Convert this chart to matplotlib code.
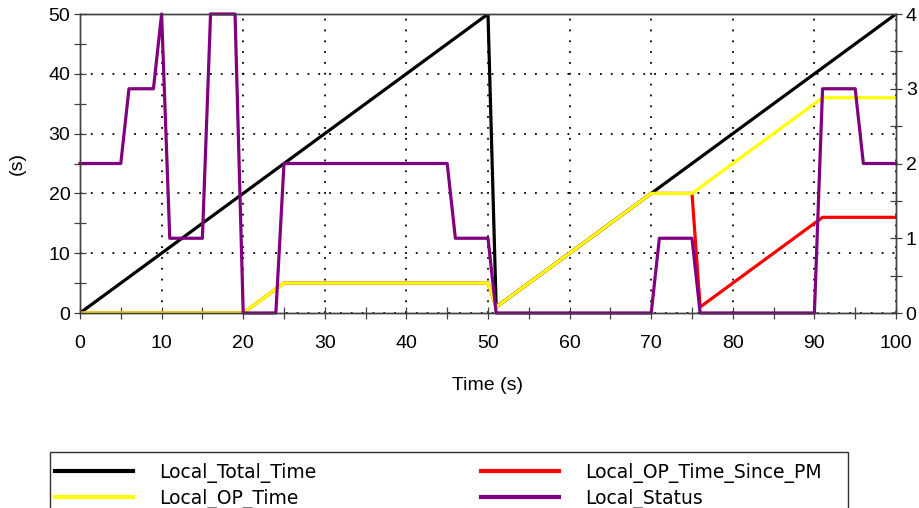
import matplotlib
matplotlib.use("Agg")
import matplotlib.pyplot as plt
from matplotlib.patches import Rectangle
from matplotlib.ticker import MultipleLocator

# breakpoints (time in s)
total_t = [0, 50, 51, 100]
total_v = [0, 50, 1, 50]

op_t = [0, 20, 25, 50, 51, 70, 75, 91, 100]
op_v = [0, 0, 5, 5, 1, 20, 20, 36, 36]

pm_t = [0, 20, 25, 50, 51, 70, 75, 76, 91, 100]
pm_v = [0, 0, 5, 5, 1, 20, 20, 1, 16, 16]

status_t = [0, 5, 6, 9, 10, 11, 15, 16, 19, 20, 24, 25, 45, 46, 50, 51,
            70, 71, 75, 76, 90, 91, 95, 96, 100]
status_v = [2, 2, 3, 3, 4, 1, 1, 4, 4, 0, 0, 2, 2, 1, 1, 0,
            0, 1, 1, 0, 0, 3, 3, 2, 2]

plt.rcParams['font.family'] = ['Liberation Sans', 'DejaVu Sans']

W, H = 920, 508
fig = plt.figure(figsize=(9.2, 5.08), dpi=100)
ax = fig.add_axes([80 / W, 1 - 313 / H, 816 / W, 299 / H])
ax2 = ax.twinx()

lw = 2.3
l1, = ax.plot(total_t, total_v, color='black', lw=lw, label='Local_Total_Time')
l3, = ax.plot(pm_t, pm_v, color='#ff0000', lw=lw, label='Local_OP_Time_Since_PM')
l2, = ax.plot(op_t, op_v, color='#ffff00', lw=lw, label='Local_OP_Time')
l4, = ax2.plot(status_t, status_v, color='#800080', lw=lw, label='Local_Status',
               clip_on=False)

ax.set_xlim(0, 100)
ax.set_ylim(0, 50)
ax2.set_ylim(0, 4)
ax.xaxis.set_major_locator(MultipleLocator(10))
ax.xaxis.set_minor_locator(MultipleLocator(5))
ax.yaxis.set_major_locator(MultipleLocator(10))
ax.yaxis.set_minor_locator(MultipleLocator(5))
ax2.yaxis.set_major_locator(MultipleLocator(1))
ax2.yaxis.set_minor_locator(MultipleLocator(0.5))

ax.grid(True, which='major', color='black', linestyle=(0, (1, 5)), lw=1.3)
ax.set_axisbelow(True)

for a in (ax, ax2):
    a.tick_params(which='both', direction='inout', length=8, width=0.9,
                  color='#404040', labelsize=14, pad=3)
    for s in a.spines.values():
        s.set_color('#404040')
        s.set_linewidth(1)
ax.tick_params(axis='x', pad=12)

ax.set_xlabel('Time (s)', fontsize=14, labelpad=18)
ax.set_ylabel('(s)', fontsize=14, labelpad=16)

# legend frame runs past the bottom edge of the figure
fig.add_artist(Rectangle((50 / W, -0.05), 798 / W, 1 - 452 / H + 0.05,
                         transform=fig.transFigure, fill=False,
                         edgecolor='#303030', lw=1))
leg = fig.legend(handles=[l1, l2, l3, l4], ncol=2, loc='upper left',
                 bbox_to_anchor=(55 / W, 1 - 463 / H),
                 borderaxespad=0, frameon=False,
                 handlelength=4.15, handletextpad=1.4, columnspacing=8.8,
                 borderpad=0.0, labelspacing=0.3,
                 prop={'family': 'DejaVu Sans', 'size': 13.5})
for h in leg.legend_handles:
    h.set_linewidth(3)

fig.savefig('out.png', dpi=100)
